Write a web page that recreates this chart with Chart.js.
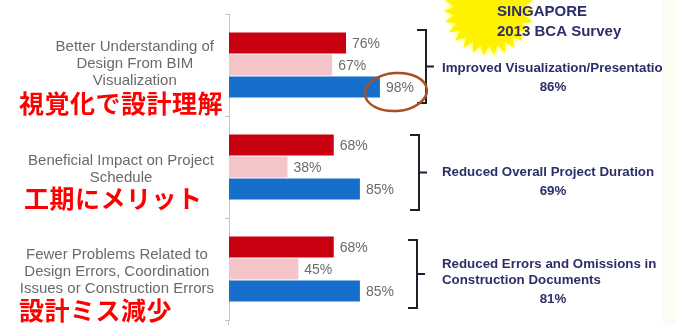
<!DOCTYPE html>
<html>
<head>
<meta charset="utf-8">
<script src="https://cdn.jsdelivr.net/npm/chart.js@4"></script>
<style>
  html, body { margin: 0; padding: 0; background: #ffffff; }
  #wrap { width: 676px; height: 325px; position: relative; }
</style>
</head>
<body>
<div id="wrap"><canvas id="c" width="676" height="325"></canvas></div>
<script>
// Survey categories (left-hand labels, one array of lines per category)
const categories = [
  ['Better Understanding of', 'Design From BIM', 'Visualization'],
  ['Beneficial Impact on Project', 'Schedule'],
  ['Fewer Problems Related to', 'Design Errors, Coordination', 'Issues or Construction Errors']
];
// Japanese summaries shown under each category
const jpLabels = ['視覚化で設計理解', '工期にメリット', '設計ミス減少'];

// Three respondent series, percentages
const seriesRed  = [76, 68, 68];
const seriesPink = [67, 38, 45];
const seriesBlue = [98, 85, 85];

// Overall benefit summaries on the right
const summaryLines = [
  ['Improved Visualization/Presentation'],
  ['Reduced Overall Project Duration'],
  ['Reduced Errors and Omissions in', 'Construction Documents']
];
const summaryValues = [86, 69, 81];

const titleLines = ['SINGAPORE', '2013 BCA Survey'];

const SANS = '"Liberation Sans", Arial, sans-serif';
const CJK = '"Noto Sans CJK JP", "Noto Sans CJK SC", sans-serif';
const NAVY = '#2c2e6a';

const decorations = {
  id: 'decorations',
  beforeDraw(chart) {
    const ctx = chart.ctx;
    // faint strip at the right edge of the slide
    ctx.save();
    ctx.fillStyle = '#fcfcf3';
    ctx.fillRect(663, 0, 13, chart.height);
    ctx.restore();

    // yellow starburst behind the survey title
    ctx.save();
    const cx = 489, cy = 11, ro = 45, ri = 35, n = 26;
    ctx.beginPath();
    for (let i = 0; i < n * 2; i++) {
      const r = i % 2 === 0 ? ro : ri;
      const a = (Math.PI * i) / n;
      const x = cx + r * Math.cos(a), y = cy + r * Math.sin(a);
      if (i === 0) ctx.moveTo(x, y); else ctx.lineTo(x, y);
    }
    ctx.closePath();
    ctx.shadowColor = 'rgba(255,255,0,0.9)';
    ctx.shadowBlur = 4;
    ctx.fillStyle = '#fff200';
    ctx.fill();
    ctx.restore();

    ctx.save();
    ctx.fillStyle = NAVY;
    ctx.font = 'bold 15px ' + SANS;
    ctx.textBaseline = 'middle';
    ctx.textAlign = 'left';
    ctx.fillText(titleLines[0], 497, 12);
    ctx.fillText(titleLines[1], 497, 32);
    ctx.restore();
  },
  afterDraw(chart) {
    const ctx = chart.ctx;
    const yScale = chart.scales.y;
    const area = chart.chartArea;

    // extend the category axis line to the bottom edge
    ctx.save();
    ctx.strokeStyle = '#c4c4c4';
    ctx.lineWidth = 1;
    ctx.beginPath();
    ctx.moveTo(area.left - 0.5, area.bottom);
    ctx.lineTo(area.left - 0.5, chart.height);
    ctx.stroke();
    ctx.restore();

    categories.forEach((lines, i) => {
      const yc = yScale.getPixelForValue(i);

      // grey category text: lines centred in a block whose right edge sits near the axis
      ctx.save();
      ctx.fillStyle = '#6a6a6a';
      ctx.font = '15px ' + SANS;
      ctx.textAlign = 'center';
      ctx.textBaseline = 'middle';
      const lh = 17;
      const maxW = Math.max(...lines.map(t => ctx.measureText(t).width));
      const xc = 214 - maxW / 2;
      const off = [-1, 2, 3][i];
      const y0 = yc + off - (lines.length - 1) * lh / 2;
      lines.forEach((t, k) => ctx.fillText(t, xc, y0 + k * lh));
      ctx.restore();

      // red Japanese caption
      ctx.save();
      ctx.fillStyle = '#ff0000';
      ctx.font = 'bold 25px ' + CJK;
      ctx.textAlign = 'left';
      ctx.textBaseline = 'middle';
      const jy = [103, 198, 310][i];
      const jx = [19, 24, 19][i];
      ctx.letterSpacing = '0.5px';
      ctx.fillText(jpLabels[i], jx, jy);
      ctx.restore();

      // bracket grouping the three bars
      const bx = [426, 419, 417][i];
      const top = [30, 135, 240][i];
      const bot = [103, 210, 308][i];
      const mid = (top + bot) / 2;
      ctx.save();
      ctx.strokeStyle = '#1e1e2a';
      ctx.lineWidth = 2;
      ctx.beginPath();
      ctx.moveTo(bx - 9, top);
      ctx.lineTo(bx, top);
      ctx.lineTo(bx, bot);
      ctx.lineTo(bx - 9, bot);
      ctx.moveTo(bx, mid);
      ctx.lineTo(bx + 8, mid);
      ctx.stroke();
      ctx.restore();

      // summary text beside the bracket
      ctx.save();
      ctx.beginPath();
      ctx.rect(0, 0, 663, chart.height);
      ctx.clip();
      ctx.fillStyle = NAVY;
      ctx.font = 'bold 13.3px ' + SANS;
      ctx.textBaseline = 'middle';
      ctx.textAlign = 'left';
      const sl = summaryLines[i];
      const sy = [68, 172, 264][i];
      sl.forEach((t, k) => ctx.fillText(t, 442, sy + k * 16));
      ctx.textAlign = 'center';
      ctx.fillText(summaryValues[i] + '%', 553, sy + sl.length * 16 + 3);
      ctx.restore();
    });

    // highlight ring around the top blue value
    ctx.save();
    ctx.strokeStyle = '#a8501f';
    ctx.lineWidth = 2.5;
    ctx.beginPath();
    ctx.ellipse(396, 92, 31, 19, -0.08, 0, Math.PI * 2);
    ctx.stroke();
    ctx.restore();
  },
  afterDatasetsDraw(chart) {
    const ctx = chart.ctx;
    ctx.save();
    ctx.font = '14px ' + SANS;
    ctx.fillStyle = '#6b6b6b';
    ctx.textAlign = 'left';
    ctx.textBaseline = 'middle';
    chart.data.datasets.forEach((ds, di) => {
      chart.getDatasetMeta(di).data.forEach((bar, i) => {
        ctx.fillText(ds.data[i] + '%', bar.x + 6, bar.y + 1);
      });
    });
    ctx.restore();
  }
};

new Chart(document.getElementById('c'), {
  type: 'bar',
  data: {
    labels: categories.map(l => l.join(' ')),
    datasets: [
      { data: seriesRed,  backgroundColor: '#c8000f' },
      { data: seriesPink, backgroundColor: '#f5c4c8' },
      { data: seriesBlue, backgroundColor: '#156fcb' }
    ]
  },
  options: {
    indexAxis: 'y',
    responsive: false,
    animation: false,
    layout: { padding: { left: 225, right: 293, top: 14, bottom: 5 } },
    datasets: { bar: { categoryPercentage: 0.647, barPercentage: 0.95 } },
    plugins: { legend: { display: false }, tooltip: { enabled: false } },
    scales: {
      x: { display: false, min: 0, max: 100 },
      y: {
        display: true,
        ticks: { display: false },
        grid: { display: true, drawOnChartArea: false, offset: true, tickLength: 4, color: '#c4c4c4' },
        border: { display: true, color: '#c4c4c4' }
      }
    }
  },
  plugins: [decorations]
});
</script>
</body>
</html>
